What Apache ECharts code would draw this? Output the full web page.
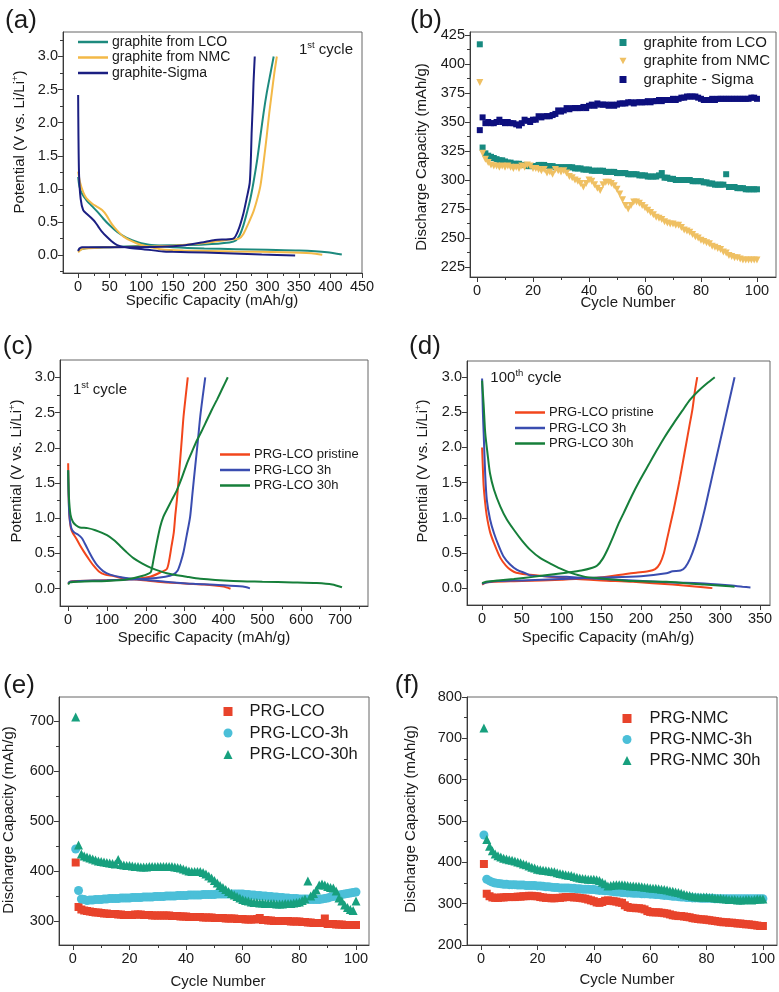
<!DOCTYPE html>
<html><head><meta charset="utf-8">
<script src="https://cdn.jsdelivr.net/npm/echarts@6/dist/echarts.min.js"></script>
<style>html,body{margin:0;padding:0;background:#fff}#c{width:779px;height:992px}</style>
</head><body><div id="c"></div>
<script>
const FONT = "'Liberation Sans', Arial, sans-serif";

// ---------- tick labels ----------
const aXMajor = [0,50,100,150,200,250,300,350,400,450];
const aXMinor = [25,75,125,175,225,275,325,375,425];
const vYMajor = [0,0.5,1,1.5,2,2.5,3];
const vYMinor = [-0.25,0.25,0.75,1.25,1.75,2.25,2.75,3.25];
const cycXMajor = [0,20,40,60,80,100];
const cycXMinor = [10,30,50,70,90];
const bYMajor = [225,250,275,300,325,350,375,400,425];
const bYMinor = [237.5,262.5,287.5,312.5,337.5,362.5,387.5,412.5];
const cXMajor = [0,100,200,300,400,500,600,700];
const cXMinor = [50,150,250,350,450,550,650,750];
const dXMajor = [0,50,100,150,200,250,300,350];
const dXMinor = [25,75,125,175,225,275,325];
const eYMajor = [300,400,500,600,700];
const eYMinor = [350,450,550,650];
const fYMajor = [200,300,400,500,600,700,800];
const fYMinor = [250,350,450,550,650,750];

// ---------- (a) 1st cycle voltage profiles ----------
const aLcoDis = [[0,1.18],[2,1.04],[6,0.93],[14,0.82],[22,0.74],[30,0.66],[40,0.55],[50,0.45],[62,0.35],[77,0.26],[90,0.21],[100,0.18],[125,0.14],[150,0.12],[200,0.1],[250,0.09],[300,0.08],[350,0.07],[395,0.045],[418,0.01]];
const aLcoChg = [[0,0.07],[5,0.09],[20,0.11],[50,0.12],[100,0.14],[150,0.15],[200,0.16],[240,0.19],[250,0.22],[256,0.3],[262,0.45],[267,0.62],[273,0.85],[278,1.1],[284,1.45],[289,1.8],[294,2.15],[299,2.45],[305,2.75],[310,3.0]];
const aNmcDis = [[0,1.26],[3,1.1],[8,0.95],[13,0.86],[22,0.78],[30,0.73],[38,0.68],[45,0.6],[54,0.46],[62,0.37],[72,0.28],[85,0.21],[98,0.16],[115,0.12],[130,0.09],[167,0.07],[246,0.055],[326,0.045],[370,0.03],[387,0.005]];
const aNmcChg = [[0,0.04],[4,0.08],[10,0.1],[50,0.12],[100,0.13],[150,0.14],[207,0.19],[235,0.23],[255,0.25],[262,0.32],[270,0.48],[278,0.66],[284,0.85],[289,1.05],[294,1.4],[299,1.8],[303,2.15],[307,2.45],[311,2.75],[315,3.0]];
const aSigDis = [[0,2.42],[0.5,1.8],[1.5,1.2],[4,0.85],[8,0.68],[14,0.62],[21,0.56],[27,0.5],[32,0.43],[38,0.35],[45,0.28],[53,0.21],[62,0.15],[80,0.11],[103,0.09],[135,0.055],[150,0.05],[200,0.04],[291,0.01],[344,-0.005]];
const aSigChg = [[0,0.06],[2,0.1],[6,0.12],[50,0.12],[133,0.125],[170,0.15],[196,0.19],[217,0.23],[246,0.25],[254,0.38],[262,0.63],[267,0.85],[272,1.09],[274,1.5],[275,1.84],[277,2.3],[278,2.6],[280,3.0]];

// ---------- (c) 1st cycle PRG-LCO ----------
const cPriDis = [[0,1.78],[1,1.4],[3,1.05],[7,0.86],[12,0.79],[20,0.72],[30,0.62],[40,0.53],[52,0.43],[65,0.33],[80,0.24],[95,0.2],[117,0.18],[150,0.14],[177,0.13],[230,0.1],[280,0.08],[350,0.06],[400,0.03],[418,0.0]];
const c3hDis = [[0,1.68],[1,1.35],[3,1.05],[8,0.86],[15,0.8],[25,0.77],[35,0.72],[45,0.62],[55,0.51],[65,0.41],[75,0.33],[90,0.25],[108,0.2],[140,0.16],[185,0.13],[250,0.1],[322,0.07],[400,0.05],[450,0.03],[468,0.005]];
const c30Dis = [[0,1.68],[2,1.3],[6,1.05],[12,0.95],[20,0.9],[30,0.87],[50,0.86],[70,0.83],[100,0.76],[120,0.68],[135,0.6],[150,0.52],[169,0.43],[190,0.36],[212,0.3],[254,0.22],[305,0.17],[340,0.14],[425,0.11],[500,0.1],[579,0.09],[640,0.08],[680,0.06],[705,0.02]];
const cPriChg = [[0,0.07],[5,0.1],[20,0.11],[100,0.12],[150,0.13],[211,0.17],[237,0.23],[254,0.28],[260,0.4],[266,0.6],[272,0.8],[276,1.05],[280,1.26],[285,1.6],[289,1.87],[293,2.15],[297,2.44],[303,2.75],[308,3.0]];
const c3hChg = [[0,0.08],[5,0.1],[30,0.11],[100,0.12],[150,0.13],[200,0.14],[250,0.17],[270,0.2],[282,0.26],[290,0.38],[297,0.52],[305,0.75],[314,1.02],[320,1.35],[327,1.73],[334,2.1],[340,2.44],[347,2.75],[353,3.0]];
const c30Chg = [[0,0.06],[5,0.09],[30,0.1],[100,0.11],[150,0.13],[190,0.18],[212,0.23],[216,0.3],[220,0.42],[228,0.65],[237,0.88],[245,1.02],[254,1.12],[266,1.25],[280,1.4],[293,1.58],[306,1.78],[320,1.96],[332,2.11],[345,2.25],[357,2.39],[370,2.54],[383,2.68],[397,2.84],[411,3.0]];

// ---------- (d) 100th cycle PRG-LCO ----------
const dPriDis = [[0,2.0],[1,1.7],[2,1.45],[4,1.2],[6,1.02],[10,0.8],[15,0.64],[23,0.43],[30,0.32],[36,0.26],[43,0.22],[64,0.185],[106,0.14],[150,0.11],[190,0.09],[240,0.05],[282,0.01],[290,0.0]];
const d3hDis = [[0,2.98],[1,2.5],[2,2.2],[4,1.6],[6,1.25],[10,0.98],[15,0.78],[21,0.6],[27,0.45],[35,0.34],[44,0.26],[55,0.21],[61,0.18],[80,0.17],[106,0.16],[150,0.13],[190,0.11],[240,0.08],[274,0.07],[310,0.04],[328,0.02],[338,0.01]];
const d30Dis = [[0,2.95],[2,2.6],[4,2.2],[7,1.9],[10,1.63],[15,1.4],[23,1.16],[31,0.98],[40,0.83],[50,0.68],[61,0.54],[73,0.43],[86,0.35],[98,0.28],[111,0.22],[130,0.16],[148,0.14],[190,0.1],[232,0.09],[280,0.05],[307,0.03],[318,0.02]];
const dPriChg = [[0,0.05],[5,0.08],[15,0.09],[50,0.1],[100,0.12],[148,0.15],[181,0.2],[194,0.22],[209,0.24],[218,0.27],[224,0.35],[229,0.5],[233,0.7],[237,0.9],[241,1.1],[245,1.32],[249,1.55],[253,1.8],[257,2.05],[261,2.3],[265,2.55],[268,2.8],[271,3.0]];
const d3hChg = [[0,0.06],[5,0.08],[20,0.1],[50,0.11],[100,0.13],[150,0.15],[200,0.17],[232,0.21],[240,0.24],[250,0.25],[256,0.3],[262,0.42],[268,0.6],[274,0.83],[280,1.1],[285,1.35],[290,1.6],[295,1.85],[300,2.1],[305,2.35],[310,2.6],[314,2.8],[318,3.0]];
const d30Chg = [[0,0.07],[5,0.09],[20,0.11],[40,0.13],[64,0.16],[85,0.19],[106,0.22],[125,0.25],[139,0.29],[145,0.32],[152,0.42],[158,0.55],[165,0.73],[172,0.92],[178,1.06],[188,1.3],[199,1.54],[210,1.76],[220,1.96],[230,2.15],[241,2.34],[252,2.52],[262,2.68],[272,2.8],[283,2.91],[293,3.0]];

// ---------- cycling data ----------
const cycleNo = [1,2,3,4,5,6,7,8,9,10,11,12,13,14,15,16,17,18,19,20,21,22,23,24,25,26,27,28,29,30,31,32,33,34,35,36,37,38,39,40,41,42,43,44,45,46,47,48,49,50,51,52,53,54,55,56,57,58,59,60,61,62,63,64,65,66,67,68,69,70,71,72,73,74,75,76,77,78,79,80,81,82,83,84,85,86,87,88,89,90,91,92,93,94,95,96,97,98,99,100];
const capLCO = [417,328,323,321,320,319,318,317,317,316, 315,315,314,314,314,313,313,312,312,312, 312,313,313,313,312,312,312,311,311,311, 311,311,311,311,310,310,310,309,309,309, 308,308,308,308,308,307,307,307,307,306, 306,306,306,305,305,305,305,304,304,304, 303,303,303,303,304,306,302,302,301,301, 300,300,300,300,300,300,299,299,299,299, 298,298,297,297,296,296,296,296,305,294, 294,294,293,293,293,292,292,292,292,292];
const capNMCg = [384,323,318,315,313,312,312,311,312,311, 312,311,310,311,310,312,311,313,312,310, 310,309,308,309,306,307,305,309,308,307, 308,306,303,302,300,299,297,294,297,300, 299,296,293,291,296,298,298,297,295,292, 288,283,278,275,278,281,281,280,278,276, 274,272,270,268,267,266,264,263,262,262, 261,261,259,257,256,255,253,251,250,248, 247,246,245,243,242,241,240,238,237,235, 234,233,233,232,231,231,231,231,231,231];
const capSigma = [343,354,349,350,349,349,350,352,350,349, 350,349,349,348,347,349,352,351,350,352, 352,355,354,355,355,355,356,357,360,359, 360,362,361,362,362,362,362,363,362,364, 365,364,366,365,365,365,364,365,364,365, 366,366,366,367,367,366,367,367,367,367, 368,367,368,368,369,368,369,369,369,370, 369,370,371,371,372,372,372,372,371,370, 369,369,369,370,369,370,370,370,370,370, 370,370,370,370,370,370,370,371,371,370];
const capLCO3h = [444,361,344,343,341,342,342,343,343,343, 344,344,345,345,345,345,346,346,346,346, 347,347,347,347,348,348,348,348,349,349, 349,349,350,350,350,350,351,351,351,351, 352,352,352,352,352,353,353,353,353,353, 354,354,354,354,354,354,354,354,354,354, 353,353,352,352,351,351,350,350,349,349, 348,348,347,347,346,346,345,345,345,344, 344,344,344,343,343,343,343,344,345,346, 348,349,350,352,353,354,355,356,357,358];
const capLCO30h = [708,452,434,430,428,426,424,422,420,419, 418,417,416,415,414,423,413,412,411,411, 410,409,409,408,408,408,409,409,409,409, 409,409,409,409,409,408,407,406,404,402, 400,399,399,399,399,397,394,390,386,381, 376,371,367,363,359,355,352,349,346,343, 341,340,338,337,337,336,336,335,335,335, 335,334,334,334,335,335,335,336,337,338, 341,344,380,350,355,362,372,374,372,369, 367,366,360,346,340,332,327,323,321,340];
const capNMC = [396,324,318,315,314,314,315,315,316,316, 316,316,317,317,318,318,319,319,318,318, 316,315,314,314,313,313,314,314,315,316, 316,316,315,315,314,313,312,310,308,306, 303,302,304,307,308,307,306,305,303,302, 296,292,290,290,289,289,288,286,282,280, 279,279,279,278,277,276,274,272,271,270, 270,269,268,267,265,264,263,262,262,261, 260,259,258,257,256,255,255,254,254,253, 252,252,251,250,250,249,248,247,246,246];
const capNMC3h = [466,359,355,352,350,349,348,347,347,346, 346,346,345,345,345,344,344,344,344,343, 343,342,341,341,340,339,339,338,338,338, 338,337,337,336,336,335,335,335,334,334, 333,332,332,331,331,330,329,328,328,327, 327,326,326,325,325,325,324,324,324,323, 323,322,322,321,320,320,319,318,318,317, 316,316,315,315,314,314,314,313,313,313, 313,313,312,312,312,312,312,312,312,312, 312,312,312,312,312,312,312,312,312,312];
const capNMC30h = [725,455,439,428,420,416,413,410,408,406, 405,403,401,399,396,394,391,388,386,383, 382,381,380,379,378,377,375,373,372,370, 369,368,366,364,362,361,360,359,359,359, 358,356,352,348,343,344,345,346,346,346, 345,344,343,343,342,342,341,340,339,338, 337,337,336,335,334,333,331,330,328,327, 325,323,321,320,318,317,316,316,316,316, 315,315,314,313,313,312,311,310,310,310, 309,309,309,310,310,309,310,311,311,311];

// ---------- layout ----------
const grids = [
  {left:63, top:32, width:299, height:241},
  {left:470, top:32, width:306, height:245},
  {left:60, top:360, width:308, height:246},
  {left:467, top:361, width:303, height:244},
  {left:59, top:697, width:310, height:248},
  {left:467, top:697, width:310, height:248}
];
const specs = [
  {x:{min:-24,max:450,maj:aXMajor,min2:aXMinor,dec:0}, y:{min:-0.27,max:3.37,maj:vYMajor,min2:vYMinor,dec:1}},
  {x:{min:-2.5,max:106.8,maj:cycXMajor,min2:cycXMinor,dec:0}, y:{min:216.4,max:427.6,maj:bYMajor,min2:bYMinor,dec:0}},
  {x:{min:-21,max:772,maj:cXMajor,min2:cXMinor,dec:0}, y:{min:-0.245,max:3.245,maj:vYMajor,min2:vYMinor,dec:1}},
  {x:{min:-19,max:362.6,maj:dXMajor,min2:dXMinor,dec:0}, y:{min:-0.24,max:3.23,maj:vYMajor,min2:vYMinor,dec:1}},
  {x:{min:-4.9,max:104.6,maj:cycXMajor,min2:cycXMinor,dec:0}, y:{min:252,max:748,maj:eYMajor,min2:eYMinor,dec:0}},
  {x:{min:-5,max:105,maj:cycXMajor,min2:cycXMinor,dec:0}, y:{min:200,max:800,maj:fYMajor,min2:fYMinor,dec:0}}
];
const AX = '#3a3a3a';
const xAxes = [], yAxes = [];
function mk(i, s, dim) {
  const pos = dim === 'x' ? 'bottom' : 'left';
  const minors = s.min2.filter(v => v > s.min && v < s.max);
  const major = {
    type:'value', gridIndex:i, min:s.min, max:s.max, position:pos,
    axisLine:{show:true, onZero:false, lineStyle:{color:AX, width:1}},
    axisTick:{show:true, customValues:s.maj, length:5, lineStyle:{color:AX}},
    axisLabel:{customValues:s.maj, formatter:(v)=> s.dec ? Number(v).toFixed(s.dec) : String(Math.round(v)),
      fontSize:14.5, color:'#1a1a1a', fontFamily:FONT, margin:dim==='x'?6:5},
    splitLine:{show:false}
  };
  const minor = {
    type:'value', gridIndex:i, min:s.min, max:s.max, position:pos,
    axisLine:{show:false, onZero:false},
    axisTick:{show:true, customValues:minors, length:3, lineStyle:{color:AX}},
    axisLabel:{show:false}, splitLine:{show:false}
  };
  return [major, minor];
}
specs.forEach((s, i) => { xAxes.push(...mk(i, s.x, 'x')); yAxes.push(...mk(i, s.y, 'y')); });

function line(g, name, data, color) {
  return {type:'line', name, xAxisIndex:2*g, yAxisIndex:2*g, data, symbol:'none', showSymbol:false,
    smooth:0.25, lineStyle:{width:2, color}, itemStyle:{color}, animation:false};
}
function zip(vals) { return cycleNo.map((c, k) => [c, vals[k]]); }
function scat(g, name, vals, color, symbol, size) {
  return {type:'scatter', name, xAxisIndex:2*g, yAxisIndex:2*g, data:zip(vals), symbol, symbolSize:size,
    itemStyle:{color, opacity:1}, animation:false};
}
const TRI_DOWN = 'path://M0,0L10,0L5,9Z';

const colA = {lco:'#1d8a7e', nmc:'#f3b947', sig:'#1b1f82'};
const colB = {lco:'#178a80', nmc:'#efc063', sig:'#0d0f7e'};
const colC = {pri:'#f2461c', h3:'#3a4db0', h30:'#167f3a'};
const colE = {r:'#e8432b', c:'#4bbfd8', g:'#17a07e'};

const series = [
  line(0,'graphite from LCO',aLcoDis,colA.lco), line(0,'graphite from LCO',aLcoChg,colA.lco),
  line(0,'graphite from NMC',aNmcDis,colA.nmc), line(0,'graphite from NMC',aNmcChg,colA.nmc),
  line(0,'graphite-Sigma',aSigDis,colA.sig), line(0,'graphite-Sigma',aSigChg,colA.sig),
  scat(1,'graphite from LCO ',capLCO,colB.lco,'rect',6),
  scat(1,'graphite from NMC ',capNMCg,colB.nmc,TRI_DOWN,7),
  scat(1,'graphite - Sigma',capSigma,colB.sig,'rect',6),
  line(2,'PRG-LCO pristine',cPriDis,colC.pri), line(2,'PRG-LCO pristine',cPriChg,colC.pri),
  line(2,'PRG-LCO 3h',c3hDis,colC.h3), line(2,'PRG-LCO 3h',c3hChg,colC.h3),
  line(2,'PRG-LCO 30h',c30Dis,colC.h30), line(2,'PRG-LCO 30h',c30Chg,colC.h30),
  line(3,'PRG-LCO pristine ',dPriDis,colC.pri), line(3,'PRG-LCO pristine ',dPriChg,colC.pri),
  line(3,'PRG-LCO 3h ',d3hDis,colC.h3), line(3,'PRG-LCO 3h ',d3hChg,colC.h3),
  line(3,'PRG-LCO 30h ',d30Dis,colC.h30), line(3,'PRG-LCO 30h ',d30Chg,colC.h30),
  scat(4,'PRG-LCO',capLCO,colE.r,'rect',8),
  scat(4,'PRG-LCO-3h',capLCO3h,colE.c,'circle',9),
  scat(4,'PRG-LCO-30h',capLCO30h,colE.g,'triangle',9),
  scat(5,'PRG-NMC',capNMC,colE.r,'rect',8),
  scat(5,'PRG-NMC-3h',capNMC3h,colE.c,'circle',9),
  scat(5,'PRG-NMC 30h',capNMC30h,colE.g,'triangle',9)
];

function lineLegend(left, top, names, fs, lh, gap) {
  return {orient:'vertical', left, top, itemWidth:30, itemHeight:2.5, itemGap:gap, selectedMode:false,
    padding:0, icon:'rect', data:names.map(n => ({name:n, icon:'rect'})),
    textStyle:{fontSize:fs, fontFamily:FONT, color:'#1a1a1a', lineHeight:lh, padding:[0,0,0,-1]}};
}
function markLegend(left, top, items, fs, lh, gap, pad, w) {
  return {orient:'vertical', left, top, itemWidth:w, itemHeight:w, itemGap:gap, selectedMode:false, padding:0,
    data:items, textStyle:{fontSize:fs, fontFamily:FONT, color:'#1a1a1a', lineHeight:lh, padding:[0,0,0,pad]}};
}
const legends = [
  lineLegend(78, 35, ['graphite from LCO','graphite from NMC','graphite-Sigma'], 14, 14, 1.5),
  markLegend(619.5, 35, [{name:'graphite from LCO ',icon:'rect'},{name:'graphite from NMC ',icon:TRI_DOWN},{name:'graphite - Sigma',icon:'rect'}], 15, 15, 3.5, 12, 7),
  lineLegend(220, 448, ['PRG-LCO pristine','PRG-LCO 3h','PRG-LCO 30h'], 13, 13, 2.5),
  lineLegend(515, 406, ['PRG-LCO pristine ','PRG-LCO 3h ','PRG-LCO 30h '], 13, 13, 2.5),
  markLegend(223.5, 703, [{name:'PRG-LCO',icon:'rect'},{name:'PRG-LCO-3h',icon:'circle'},{name:'PRG-LCO-30h',icon:'triangle'}], 16.5, 16, 4.5, 12, 9),
  markLegend(622.5, 710, [{name:'PRG-NMC',icon:'rect'},{name:'PRG-NMC-3h',icon:'circle'},{name:'PRG-NMC 30h',icon:'triangle'}], 16.5, 16, 4, 13, 9)
];

const TF = 15;
const RICH = {n:{fontSize:TF, fontFamily:FONT, fill:'#1a1a1a', lineHeight:19, verticalAlign:'middle'},
              s:{fontSize:9.5, fontFamily:FONT, fill:'#1a1a1a', lineHeight:9, verticalAlign:'top'}};
function t(x, y, text, fs, opt) {
  opt = opt || {};
  return {type:'text', x, y, rotation:opt.rot || 0, silent:true, z:100,
    style:{text, fontSize:fs, fontFamily:FONT, fill:'#1a1a1a', align:opt.align || 'center',
      verticalAlign:'middle', rich: opt.rich ? RICH : undefined}};
}
const R90 = Math.PI / 2;
const potTitle = '{n|Potential (V vs. Li/Li}{s|+}{n|)}';
const graphics = [
  t(21, 21, '(a)', 26), t(426, 21, '(b)', 26), t(18, 347, '(c)', 26), t(425, 347, '(d)', 26),
  t(19, 686, '(e)', 26), t(407, 686, '(f)', 26),
  t(212, 301, 'Specific Capacity (mAh/g)', TF), t(628, 303, 'Cycle Number', TF),
  t(204, 638, 'Specific Capacity (mAh/g)', TF), t(608, 638, 'Specific Capacity (mAh/g)', TF),
  t(218, 982, 'Cycle Number', TF), t(627, 980, 'Cycle Number', TF),
  t(20, 142, potTitle, TF, {rot:R90, rich:true}),
  t(422, 157, 'Discharge Capacity (mAh/g)', TF, {rot:R90}),
  t(17, 471, potTitle, TF, {rot:R90, rich:true}),
  t(423, 471, potTitle, TF, {rot:R90, rich:true}),
  t(9, 820, 'Discharge Capacity (mAh/g)', TF, {rot:R90}),
  t(411, 819, 'Discharge Capacity (mAh/g)', TF, {rot:R90}),
  t(326, 50, '{n|1}{s|st}{n| cycle}', TF, {rich:true}),
  t(100, 390, '{n|1}{s|st}{n| cycle}', TF, {rich:true}),
  t(526, 378, '{n|100}{s|th}{n| cycle}', TF, {rich:true})
];

const chart = echarts.init(document.getElementById('c'), null, {renderer:'canvas'});
chart.setOption({
  animation:false,
  backgroundColor:'#fff',
  textStyle:{fontFamily:FONT},
  grid: grids.map(g => Object.assign({show:true, borderColor:'#666', borderWidth:1, backgroundColor:'transparent'}, g)),
  xAxis: xAxes, yAxis: yAxes,
  legend: legends,
  series, graphic: graphics
});
</script></body></html>
